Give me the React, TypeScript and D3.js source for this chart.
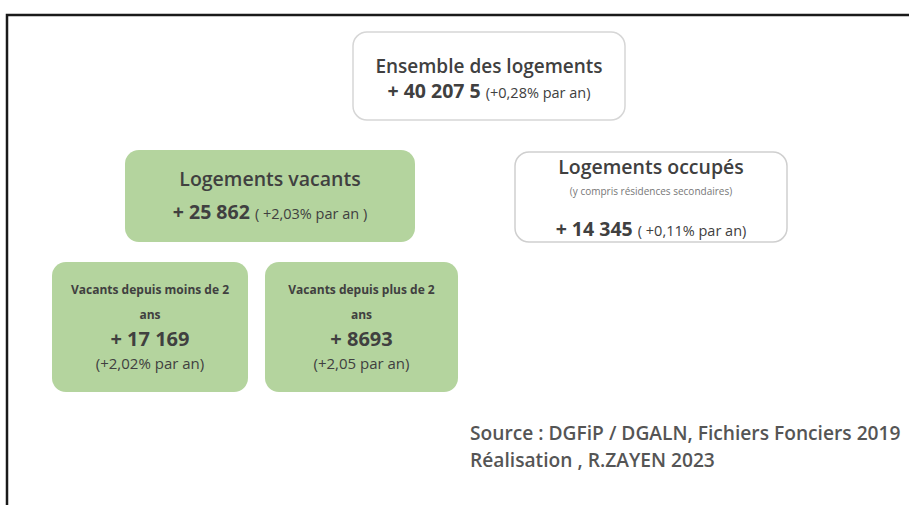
import React, { useEffect, useRef } from 'react';
import * as d3 from 'd3';

// box content
const boxIds = ['ensemble', 'vacants', 'occupes', 'moins2', 'plus2'];
const titles = [
  ['Ensemble des logements'],
  ['Logements vacants'],
  ['Logements occupés'],
  ['Vacants depuis moins de 2', 'ans'],
  ['Vacants depuis plus de 2', 'ans'],
];
const notes = ['', '', '(y compris résidences secondaires)', '', ''];
const values = ['+ 40 207 5', '+ 25 862', '+ 14 345', '+ 17 169', '+ 8693'];
const rates = ['(+0,28% par an)', '( +2,03% par an )', '( +0,11% par an)', '(+2,02% par an)', '(+2,05 par an)'];
const sourceLines = ['Source : DGFiP / DGALN, Fichiers Fonciers 2019', 'Réalisation , R.ZAYEN 2023'];

const W = 909;
const H = 505;
const GREEN = '#b4d49e';
const TEXT = '#404040';

// where each box sits and how its text is set
const layout = {
  ensemble: { x: 353, y: 32, w: 272, h: 88, fill: '#fff', stroke: '#d6d6d6', titleSize: 19, titleBold: 600, titleY: [73], valueSize: 19.5, rateSize: 14.5, valueY: 98, inline: true },
  vacants: { x: 125, y: 150, w: 290, h: 92, fill: GREEN, stroke: 'none', titleSize: 19.5, titleBold: 600, titleY: [186], valueSize: 19.5, rateSize: 14.5, valueY: 219, inline: true },
  occupes: { x: 515, y: 152, w: 272, h: 90, fill: '#fff', stroke: '#cfcfcf', titleSize: 19.5, titleBold: 600, titleY: [174], noteY: 195, valueSize: 19.5, rateSize: 14.5, valueY: 236, inline: true },
  moins2: { x: 52, y: 262, w: 196, h: 130, fill: GREEN, stroke: 'none', titleSize: 12, titleBold: 700, titleY: [294, 319], valueSize: 20, rateSize: 15, valueY: 346, rateY: 369, inline: false },
  plus2: { x: 265, y: 262, w: 193, h: 130, fill: GREEN, stroke: 'none', titleSize: 12, titleBold: 700, titleY: [294, 319], valueSize: 20, rateSize: 15, valueY: 346, rateY: 369, inline: false },
};

const App = () => {
  const ref = useRef(null);

  useEffect(() => {
    document.body.style.margin = '0';
    const svg = d3.select(ref.current);
    svg.selectAll('*').remove();

    svg.append('rect').attr('width', W).attr('height', H).attr('fill', '#fff');

    // frame: top and left edges only
    svg.append('path')
      .attr('d', d3.line()([[7, H], [7, 15], [W, 15]]))
      .attr('fill', 'none')
      .attr('stroke', '#1a1a1a')
      .attr('stroke-width', 2.5);

    const boxes = boxIds.map((id, i) => ({
      id, title: titles[i], note: notes[i], value: values[i], rate: rates[i], ...layout[id],
    }));

    const g = svg.selectAll('g.box')
      .data(boxes)
      .join('g')
      .attr('class', 'box')
      .attr('font-family', '"Open Sans", sans-serif')
      .attr('fill', TEXT);

    g.append('rect')
      .attr('x', d => d.x)
      .attr('y', d => d.y)
      .attr('width', d => d.w)
      .attr('height', d => d.h)
      .attr('rx', 14)
      .attr('fill', d => d.fill)
      .attr('stroke', d => d.stroke)
      .attr('stroke-width', 1.5);

    g.each(function (d) {
      const sel = d3.select(this);
      const cx = d.x + d.w / 2;

      d.title.forEach((line, j) => {
        sel.append('text')
          .attr('x', cx)
          .attr('y', d.titleY[j])
          .attr('text-anchor', 'middle')
          .attr('font-size', d.titleSize)
          .attr('font-weight', d.titleBold)
          .text(line);
      });

      if (d.note) {
        sel.append('text')
          .attr('x', cx)
          .attr('y', d.noteY)
          .attr('text-anchor', 'middle')
          .attr('font-size', 10)
          .attr('fill', '#777')
          .text(d.note);
      }

      if (d.inline) {
        const t = sel.append('text')
          .attr('x', cx)
          .attr('y', d.valueY)
          .attr('text-anchor', 'middle');
        t.append('tspan')
          .attr('font-size', d.valueSize)
          .attr('font-weight', 700)
          .text(d.value + ' ');
        t.append('tspan')
          .attr('font-size', d.rateSize)
          .text(d.rate);
      } else {
        sel.append('text')
          .attr('x', cx)
          .attr('y', d.valueY)
          .attr('text-anchor', 'middle')
          .attr('font-size', d.valueSize)
          .attr('font-weight', 700)
          .text(d.value);
        sel.append('text')
          .attr('x', cx)
          .attr('y', d.rateY)
          .attr('text-anchor', 'middle')
          .attr('font-size', d.rateSize)
          .text(d.rate);
      }
    });

    svg.append('g')
      .attr('font-family', '"Open Sans", sans-serif')
      .attr('font-size', 19.2)
      .attr('font-weight', 600)
      .attr('fill', '#555')
      .selectAll('text')
      .data(sourceLines)
      .join('text')
      .attr('x', 470)
      .attr('y', (d, i) => 440 + i * 27)
      .text(d => d);
  }, []);

  return <svg ref={ref} width={W} height={H} style={{ display: 'block' }} />;
};

export default App;
